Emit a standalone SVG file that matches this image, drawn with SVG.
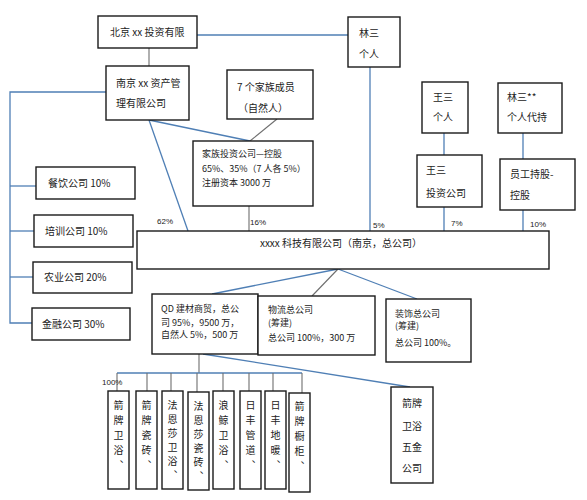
<svg xmlns="http://www.w3.org/2000/svg" width="587" height="500" viewBox="0 0 587 500">
<style>
.box{fill:#fff;stroke:#1a1a1a;stroke-width:1.4}
.t{font-family:"Noto Sans CJK SC","Noto Sans",sans-serif;font-size:10px;fill:#222}
.s{font-size:9px}
.p{font-family:"Liberation Sans","Noto Sans",sans-serif;font-size:8px;fill:#222}
.v{font-family:"Noto Sans CJK SC",sans-serif;font-size:10px;fill:#222;writing-mode:vertical-rl;letter-spacing:5px}
.bl{stroke:#4f7fb5;stroke-width:1.3;fill:none}
.gr{stroke:#6e6e6e;stroke-width:1.1;fill:none}
</style>
<rect width="587" height="500" fill="#fff"/>
<g id="connectors">
<line class="bl" x1="197" y1="35" x2="348" y2="35"/>
<line class="gr" x1="149" y1="48" x2="149" y2="66"/>
<polyline class="bl" points="106,92 10,92 10,323 32,323"/>
<line class="bl" x1="10" y1="186" x2="36" y2="186"/>
<line class="bl" x1="10" y1="231" x2="34" y2="231"/>
<line class="bl" x1="10" y1="277" x2="33" y2="277"/>
<line class="bl" x1="149" y1="120" x2="188" y2="231"/>
<line class="bl" x1="149" y1="120" x2="250" y2="141"/>
<line class="gr" x1="277" y1="119" x2="250" y2="141"/>
<line class="gr" x1="249" y1="206" x2="249" y2="231"/>
<line class="bl" x1="370" y1="67" x2="370" y2="231"/>
<line class="bl" x1="444" y1="133" x2="444" y2="155"/>
<line class="bl" x1="444" y1="207" x2="444" y2="237"/>
<line class="bl" x1="523" y1="133" x2="523" y2="159"/>
<line class="bl" x1="523" y1="210" x2="523" y2="231"/>
<line class="bl" x1="338" y1="269" x2="212" y2="294"/>
<line class="gr" x1="338" y1="269" x2="312" y2="296"/>
<line class="bl" x1="338" y1="269" x2="417" y2="299"/>
<line class="bl" x1="203" y1="354" x2="410" y2="387"/>
<line class="gr" x1="199" y1="354" x2="199" y2="373"/>
<line class="bl" x1="117" y1="373" x2="302" y2="373"/>
<line class="gr" x1="117" y1="373" x2="117" y2="391"/>
<line class="gr" x1="147" y1="373" x2="147" y2="391"/>
<line class="gr" x1="171" y1="373" x2="171" y2="391"/>
<line class="gr" x1="197" y1="373" x2="197" y2="392"/>
<line class="gr" x1="223" y1="373" x2="223" y2="391"/>
<line class="gr" x1="249" y1="373" x2="249" y2="391"/>
<line class="gr" x1="273" y1="373" x2="273" y2="391"/>
<line class="gr" x1="302" y1="373" x2="302" y2="393"/>
<text class="p" x="157" y="224">62%</text>
<text class="p" x="250" y="225">16%</text>
<text class="p" x="373" y="228">5%</text>
<text class="p" x="451" y="226">7%</text>
<text class="p" x="530" y="227">10%</text>
<text class="p" x="102" y="385">100%</text>
</g>
<g id="n-beijing"><rect class="box" x="98" y="16" width="99" height="32"/><text class="t" x="110" y="36">北京 xx 投资有限</text></g>
<g id="n-linsan"><rect class="box" x="348" y="17" width="52" height="50"/><text class="t" x="359" y="37">林三</text><text class="t" x="359" y="58">个人</text></g>
<g id="n-nanjing"><rect class="box" x="106" y="66" width="83" height="54"/><text class="t" x="116" y="87">南京 xx 资产管</text><text class="t" x="116" y="107">理有限公司</text></g>
<g id="n-family7"><rect class="box" x="227" y="70" width="86" height="49"/><text class="t" x="237" y="91">7 个家族成员</text><text class="t" x="238" y="112">（自然人）</text></g>
<g id="n-wangsan"><rect class="box" x="422" y="82" width="46" height="51"/><text class="t" x="433" y="101">王三</text><text class="t" x="433" y="121">个人</text></g>
<g id="n-linsan2"><rect class="box" x="498" y="83" width="64" height="50"/><text class="t" x="507" y="101">林三**</text><text class="t" x="507" y="121">个人代持</text></g>
<g id="n-wangsan-inv"><rect class="box" x="417" y="155" width="65" height="52"/><text class="t" x="426" y="174">王三</text><text class="t" x="426" y="197">投资公司</text></g>
<g id="n-staff"><rect class="box" x="500" y="159" width="75" height="51"/><text class="t" x="510" y="178">员工持股-</text><text class="t" x="510" y="199">控股</text></g>
<g id="n-family-inv"><rect class="box" x="193" y="141" width="120" height="65"/><text class="t s" x="202" y="157">家族投资公司—控股</text><text class="t s" x="202" y="172">65%、35%（7 人各 5%）</text><text class="t s" x="202" y="186">注册资本 3000 万</text></g>
<g id="n-canyin"><rect class="box" x="36" y="167" width="99" height="32"/><text class="t" x="48" y="187">餐饮公司 10%</text></g>
<g id="n-peixun"><rect class="box" x="34" y="215" width="99" height="32"/><text class="t" x="45" y="235">培训公司 10%</text></g>
<g id="n-nongye"><rect class="box" x="33" y="262" width="99" height="31"/><text class="t" x="44" y="281">农业公司 20%</text></g>
<g id="n-jinrong"><rect class="box" x="32" y="308" width="98" height="32"/><text class="t" x="42" y="328">金融公司 30%</text></g>
<g id="n-main"><rect class="box" x="137" y="231" width="412" height="38"/><text class="t" x="341" y="247" text-anchor="middle">xxxx 科技有限公司（南京，总公司）</text></g>
<g id="n-qd"><rect class="box" x="152" y="294" width="106" height="60"/><text class="t s" x="161" y="312">QD 建材商贸，总公</text><text class="t s" x="161" y="326">司 95%，9500 万，</text><text class="t s" x="161" y="338">自然人 5%，500 万</text></g>
<g id="n-wuliu"><rect class="box" x="258" y="296" width="117" height="59"/><text class="t s" x="268" y="313">物流总公司</text><text class="t s" x="268" y="326">(筹建)</text><text class="t s" x="268" y="341">总公司 100%，300 万</text></g>
<g id="n-zhuangshi"><rect class="box" x="386" y="299" width="85" height="63"/><text class="t s" x="395" y="317">装饰总公司</text><text class="t s" x="395" y="329">(筹建)</text><text class="t s" x="395" y="346">总公司 100%。</text></g>
<g id="n-b1"><rect class="box" x="108" y="391" width="21" height="98"/><text class="v" x="118.5" y="400">箭牌卫浴、</text></g>
<g id="n-b2"><rect class="box" x="136" y="391" width="21" height="98"/><text class="v" x="146.5" y="400">箭牌瓷砖、</text></g>
<g id="n-b3"><rect class="box" x="162" y="391" width="21" height="98"/><text class="v" x="172.5" y="400" style="letter-spacing:4px">法恩莎卫浴、</text></g>
<g id="n-b4"><rect class="box" x="188" y="392" width="21" height="98"/><text class="v" x="198.5" y="401" style="letter-spacing:4px">法恩莎瓷砖、</text></g>
<g id="n-b5"><rect class="box" x="213" y="391" width="21" height="98"/><text class="v" x="223.5" y="400">浪鲸卫浴、</text></g>
<g id="n-b6"><rect class="box" x="240" y="391" width="21" height="98"/><text class="v" x="250.5" y="400">日丰管道、</text></g>
<g id="n-b7"><rect class="box" x="265" y="391" width="21" height="98"/><text class="v" x="275.5" y="400">日丰地暖、</text></g>
<g id="n-b8"><rect class="box" x="289" y="393" width="21" height="99"/><text class="v" x="299.5" y="401">箭牌橱柜、</text></g>
<g id="n-right"><rect class="box" x="391" y="387" width="42" height="96"/><text class="t" x="412" y="407" text-anchor="middle">箭牌</text><text class="t" x="412" y="430" text-anchor="middle">卫浴</text><text class="t" x="412" y="451" text-anchor="middle">五金</text><text class="t" x="412" y="472" text-anchor="middle">公司</text></g>
</svg>
